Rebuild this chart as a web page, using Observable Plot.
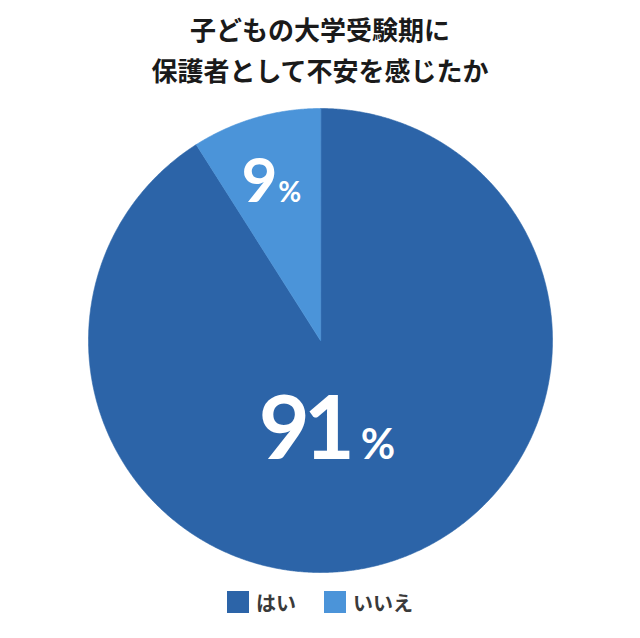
<!DOCTYPE html>
<html>
<head>
<meta charset="utf-8">
<script src="https://cdn.jsdelivr.net/npm/d3@7"></script>
<script src="https://cdn.jsdelivr.net/npm/@observablehq/plot@0.6"></script>
<style>
  html, body { margin: 0; padding: 0; background: #fff; }
  body { width: 640px; height: 638px; overflow: hidden; font-family: "Noto Sans CJK JP", "Noto Sans", sans-serif; }
  #title { height: 100px; box-sizing: border-box; padding-top: 8px; text-align: center; font-size: 26px; font-weight: 700; line-height: 41px; color: #1a1a1a; }
  #chart svg { display: block; }
  #legend { display: flex; justify-content: center; align-items: center; margin-top: 11px; height: 22px; font-size: 20px; font-weight: 700; color: #3a3a3a; }
  .item { display: flex; align-items: center; margin: 0 14px; }
  .sw { width: 22px; height: 22px; margin-right: 7px; }
  .tight text { letter-spacing: -6px; }
</style>
</head>
<body>
<div id="title">子どもの大学受験期に<br>保護者として不安を感じたか</div>
<div id="chart"></div>
<div id="legend"></div>
<script>
const categories = ["はい", "いいえ"];
const values = [91, 9];
const colors = ["#2c64a8", "#4b94d9"];
const labelNumbers = ["91", "9"];
const unit = "%";

const slices = d3.pie().sort(null).value(d => d.value)(
  categories.map((c, i) => ({category: c, value: values[i], label: labelNumbers[i]}))
);

// outline points of each slice, derived from the pie angles
const outline = slices.flatMap(a => {
  const n = Math.ceil((a.endAngle - a.startAngle) / 0.005);
  const pts = [{category: a.data.category, x: 0, y: 0}];
  for (let k = 0; k <= n; k++) {
    const t = a.startAngle + (a.endAngle - a.startAngle) * k / n;
    pts.push({category: a.data.category, x: Math.sin(t), y: Math.cos(t)});
  }
  return pts;
});

const labels = slices.map(a => {
  const mid = (a.startAngle + a.endAngle) / 2;
  const big = a.data.value >= 50;
  const r = big ? 0.53 : 0.62;
  return {big, num: a.data.label, x: r * Math.sin(mid), y: r * Math.cos(mid)};
});

const chart = Plot.plot({
  width: 640,
  height: 480,
  marginLeft: 88,
  marginRight: 88,
  marginTop: 8,
  marginBottom: 8,
  x: {domain: [-1, 1], axis: null},
  y: {domain: [-1, 1], axis: null},
  color: {domain: categories, range: colors},
  marks: [
    Plot.line(outline, {x: "x", y: "y", z: "category", fill: "category", stroke: "category", strokeWidth: 0.6, curve: "linear-closed"}),
    Plot.text(labels.filter(d => d.big), {x: "x", y: "y", text: "num", textAnchor: "end", lineAnchor: "bottom", dx: -6, fontSize: 88, fontWeight: 700, fontFamily: "Lato", fill: "white", className: "tight"}),
    Plot.text(labels.filter(d => d.big), {x: "x", y: "y", text: () => unit, textAnchor: "start", lineAnchor: "bottom", dx: 6, fontSize: 42, fontWeight: 700, fontFamily: "Lato", fill: "white"}),
    Plot.text(labels.filter(d => !d.big), {x: "x", y: "y", text: "num", textAnchor: "end", lineAnchor: "bottom", dx: -3, fontSize: 62, fontWeight: 700, fontFamily: "Lato", fill: "white"}),
    Plot.text(labels.filter(d => !d.big), {x: "x", y: "y", text: () => unit, textAnchor: "start", lineAnchor: "bottom", dx: -2, fontSize: 28, fontWeight: 700, fontFamily: "Lato", fill: "white"})
  ]
});
document.getElementById("chart").append(chart);

const legend = document.getElementById("legend");
categories.forEach((c, i) => {
  const item = document.createElement("div");
  item.className = "item";
  const sw = document.createElement("div");
  sw.className = "sw";
  sw.style.background = colors[i];
  const tx = document.createElement("span");
  tx.textContent = c;
  item.append(sw, tx);
  legend.append(item);
});
</script>
</body>
</html>
